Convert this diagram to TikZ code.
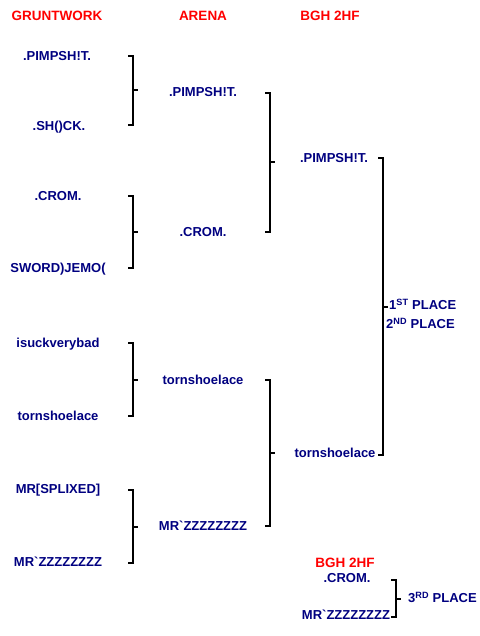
\documentclass[tikz,border=0pt]{standalone}
\usepackage{fontspec}
\setmainfont{Liberation Sans}
\usepackage{tikz}
\usetikzlibrary{calc}
\definecolor{teamblue}{RGB}{0,0,128}
\definecolor{headred}{RGB}{255,0,0}
\tikzset{
  head/.style={text=headred, font=\fontsize{13.5bp}{15bp}\selectfont\bfseries, text height=9.5bp, text depth=0pt, inner sep=0pt},
  team/.style={text=teamblue, font=\fontsize{13bp}{15bp}\selectfont\bfseries, text height=9.5bp, text depth=0pt, inner sep=0pt},
  place/.style={team, anchor=west},
  bracket/.style={draw=black, line width=2bp}
}
\begin{document}
\begin{tikzpicture}[x=1bp, y=-1bp]
  \useasboundingbox (0,0) rectangle (480,636);
  % headings
  \node[head] (hgrunt) at (57,16) {GRUNTWORK};
  \node[head] (harena) at (203,16) {ARENA};
  \node[head] (hbgh) at (330,16) {BGH 2HF};
  % first round
  \node[team] (g1) at (57,56) {.PIMPSH!T.};
  \node[team] (g2) at (59,126) {.SH()CK.};
  \node[team] (g3) at (58,196) {.CROM.};
  \node[team] (g4) at (58,268) {SWORD)JEMO(};
  \node[team] (g5) at (58,343) {isuckverybad};
  \node[team] (g6) at (58,416) {tornshoelace};
  \node[team] (g7) at (58,489) {MR[SPLIXED]};
  \node[team] (g8) at (58,562) {MR\textasciigrave ZZZZZZZZ};
  % second round
  \node[team] (a1) at (203,92) {.PIMPSH!T.};
  \node[team] (a2) at (203,232) {.CROM.};
  \node[team] (a3) at (203,380) {tornshoelace};
  \node[team] (a4) at (203,526) {MR\textasciigrave ZZZZZZZZ};
  % third round
  \node[team] (b1) at (334,158) {.PIMPSH!T.};
  \node[team] (b2) at (335,453) {tornshoelace};
  \node[place] (first) at (389,305) {1\textsuperscript{ST} PLACE};
  \node[place] (second) at (386,324) {2\textsuperscript{ND} PLACE};
  % third place match
  \node[head] (hbghb) at (345,563) {BGH 2HF};
  \node[team] (c1) at (347,578) {.CROM.};
  \node[team] (c2) at (346,615) {MR\textasciigrave ZZZZZZZZ};
  \node[place] (third) at (408,598) {3\textsuperscript{RD} PLACE};
  % bracket ends
  \coordinate (k1t) at (133,56);  \coordinate (k1b) at (133,125);
  \coordinate (k2t) at (133,196); \coordinate (k2b) at (133,268);
  \coordinate (k3t) at (133,343); \coordinate (k3b) at (133,416);
  \coordinate (k4t) at (133,490); \coordinate (k4b) at (133,563);
  \coordinate (k5t) at (270,93);  \coordinate (k5b) at (270,232);
  \coordinate (k6t) at (270,380); \coordinate (k6b) at (270,526);
  \coordinate (k7t) at (383,158); \coordinate (k7b) at (383,455);
  \coordinate (k8t) at (396,580); \coordinate (k8b) at (396,617);
  \foreach \k in {k1,k2,k3,k4,k5,k6,k7,k8} {
    \draw[bracket] ($(\k t)+(-5,0)$) -- (\k t) -- (\k b) -- ++(-5,0);
    \draw[bracket] ($(\k t)!0.5!(\k b)$) -- ++(5,0);
  }
\end{tikzpicture}
\end{document}
